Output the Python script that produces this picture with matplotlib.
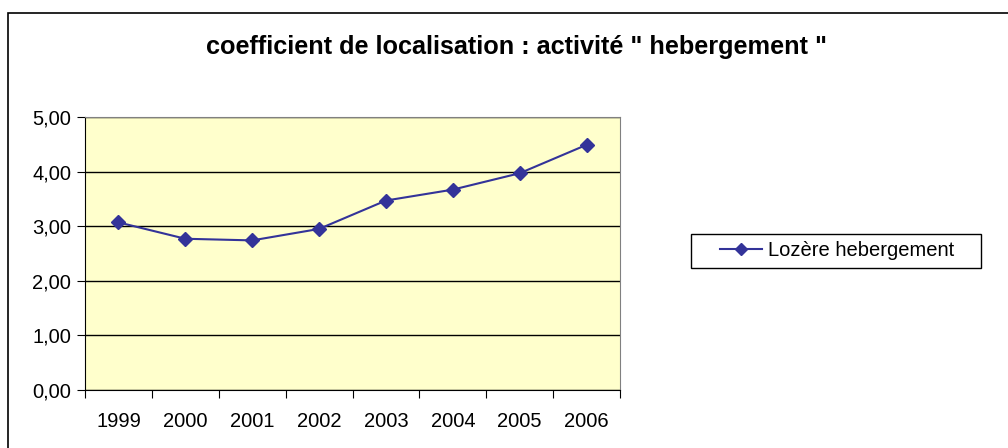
import matplotlib
matplotlib.use("Agg")
import matplotlib.pyplot as plt
import numpy as np
from matplotlib.patches import Rectangle

years = ["1999", "2000", "2001", "2002", "2003", "2004", "2005", "2006"]
values = [3.07, 2.77, 2.74, 2.95, 3.47, 3.67, 3.97, 4.49]
y_ticks = [0, 1, 2, 3, 4, 5]
y_labels = ["0,00", "1,00", "2,00", "3,00", "4,00", "5,00"]
series_name = "Lozère hebergement"
title = "coefficient de localisation : activité \" hebergement \""

plt.rcParams['font.family'] = ['Liberation Sans', 'DejaVu Sans']

W, H = 1008, 448
fig = plt.figure(figsize=(W / 100, H / 100), dpi=100)

# outer chart frame (extends past right/bottom edges)
fig.patches.append(Rectangle((8 / W, -0.1), 1.2, 1 - 13 / H + 0.1, transform=fig.transFigure,
                             fill=False, edgecolor='black', linewidth=1.2))

ax = fig.add_axes([85 / W, 1 - 390 / H, (620 - 85) / W, (390 - 117) / H])
ax.set_facecolor('#FFFFCC')
x = np.arange(len(years))
line, = ax.plot(x, values, color='#333399', marker='D', markersize=7.5, linewidth=1.5,
                label=series_name, zorder=3)
ax.set_xlim(-0.5, len(years) - 0.5)
ax.set_ylim(0, 5)
ax.set_yticks(y_ticks)
ax.set_yticklabels(y_labels, fontsize=14.5)
ax.set_xticks(np.arange(-0.5, len(years), 1.0))
ax.set_xticklabels([])
ax.set_xticks(x, minor=True)
ax.set_xticklabels(years, minor=True, fontsize=14.5)
ax.tick_params(axis='x', which='minor', length=0, pad=16)
ax.tick_params(axis='x', which='major', length=6, direction='out')
ax.tick_params(axis='y', length=6, direction='out', pad=4)
ax.grid(axis='y', color='black', linewidth=1)
ax.set_axisbelow(True)
for s in ['top', 'right']:
    ax.spines[s].set_color('#808080')
for s in ['left', 'bottom']:
    ax.spines[s].set_color('black')

fig.text(517 / W, 1 - 47 / H, title, ha='center', va='center', fontsize=18.2, fontweight='bold')

# legend frame
fig.patches.append(Rectangle((691 / W, 1 - 268 / H), (981 - 691) / W, (268 - 234) / H,
                             transform=fig.transFigure, fill=True, facecolor='white',
                             edgecolor='black', linewidth=1.0))
leg = fig.legend(handles=[line], loc='center left', bbox_to_anchor=(720 / W, 1 - 251 / H),
                 fontsize=14.5, frameon=False, borderpad=0, borderaxespad=0,
                 handlelength=2.1, handletextpad=0.3)
leg.get_lines()[0].set_markersize(6)

fig.savefig("out.png", dpi=100)
